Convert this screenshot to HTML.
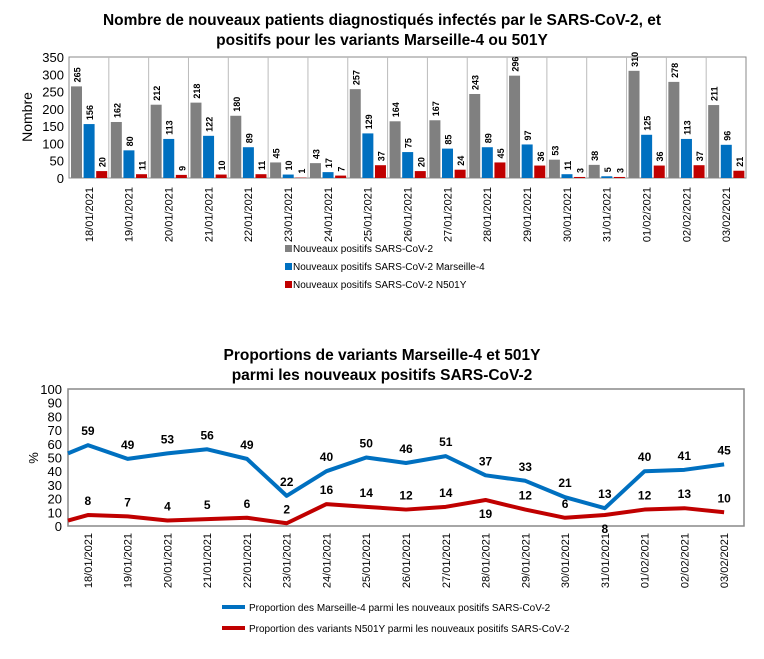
<!DOCTYPE html>
<html><head><meta charset="utf-8"><style>
body{margin:0;background:#fff;font-family:"Liberation Sans",sans-serif}
svg text{font-family:"Liberation Sans",sans-serif}
</style></head><body>
<svg width="764" height="654" xmlns="http://www.w3.org/2000/svg">
<script>
const dates=["18/01/2021","19/01/2021","20/01/2021","21/01/2021","22/01/2021","23/01/2021","24/01/2021","25/01/2021","26/01/2021","27/01/2021","28/01/2021","29/01/2021","30/01/2021","31/01/2021","01/02/2021","02/02/2021","03/02/2021"];
const totalPos=[265,162,212,218,180,45,43,257,164,167,243,296,53,38,310,278,211];
const marseillePos=[156,80,113,122,89,10,17,129,75,85,89,97,11,5,125,113,96];
const n501yPos=[20,11,9,10,11,1,7,37,20,24,45,36,3,3,36,37,21];
const barTicks=[0,50,100,150,200,250,300,350];
const propMarseille=[59,49,53,56,49,22,40,50,46,51,37,33,21,13,40,41,45];
const propN501y=[8,7,4,5,6,2,16,14,12,14,19,12,6,8,12,13,10];
const leadMarseille=53, leadN501y=4;
const redBelow=[10,13];
const pctTicks=[0,10,20,30,40,50,60,70,80,90,100];
</script>
<text x="382" y="25" text-anchor="middle" font-size="15.5" font-weight="bold">Nombre de nouveaux patients diagnostiqués infectés par le SARS-CoV-2, et</text>
<text x="382" y="45" text-anchor="middle" font-size="15.5" font-weight="bold">positifs pour les variants Marseille-4 ou 501Y</text>
<g id="bar"></g>
<text x="382" y="360" text-anchor="middle" font-size="15.5" font-weight="bold">Proportions de variants Marseille-4 et 501Y</text>
<text x="382" y="380" text-anchor="middle" font-size="15.5" font-weight="bold">parmi les nouveaux positifs SARS-CoV-2</text>
<g id="line"></g>
<g font-size="10">
<rect x="285" y="245" width="7" height="7" fill="#808080"/><text x="293" y="252">Nouveaux positifs SARS-CoV-2</text>
<rect x="285" y="263" width="7" height="7" fill="#0070c0"/><text x="293" y="270">Nouveaux positifs SARS-CoV-2 Marseille-4</text>
<rect x="285" y="281" width="7" height="7" fill="#c00000"/><text x="293" y="288">Nouveaux positifs SARS-CoV-2 N501Y</text>
</g>
<g font-size="10">
<line x1="222" y1="607" x2="245" y2="607" stroke="#0070c0" stroke-width="4"/><text x="249" y="611">Proportion des Marseille-4 parmi les nouveaux positifs SARS-CoV-2</text>
<line x1="222" y1="628" x2="245" y2="628" stroke="#c00000" stroke-width="4"/><text x="249" y="632">Proportion des variants N501Y parmi les nouveaux positifs SARS-CoV-2</text>
</g>
<script>
const NS="http://www.w3.org/2000/svg";
function mk(p,t,a,txt){const e=document.createElementNS(NS,t);for(const k in a)e.setAttribute(k,a[k]);if(txt!==undefined)e.textContent=txt;p.appendChild(e);return e;}
// bar chart
const bg=document.getElementById('bar');
const bL=69,bR=746,bT=57,bB=178,bMax=350;
const bw=(bR-bL)/dates.length;
const by=v=>bB-(v/bMax)*(bB-bT);
mk(bg,'rect',{x:bL,y:bT,width:bR-bL,height:bB-bT,fill:'none',stroke:'#888','stroke-width':1});
barTicks.forEach(t=>{const e=mk(bg,'text',{x:bL-5,y:by(t)+5,'text-anchor':'end','font-size':13},t);

});
const yt=mk(bg,'text',{x:0,y:0,transform:`translate(32,117) rotate(-90)`,'text-anchor':'middle','font-size':14},'Nombre');


const series=[[totalPos,'#808080'],[marseillePos,'#0070c0'],[n501yPos,'#c00000']];
dates.forEach((d,i)=>{
 const x0=bL+i*bw;
 if(i>0)mk(bg,'line',{x1:x0,y1:bT,x2:x0,y2:bB,stroke:'#bbb','stroke-width':1});
 series.forEach(([arr,c],j)=>{
  const x=x0+2+j*12.6,v=arr[i];
  const r=mk(bg,'rect',{x:x,y:by(v),width:11,height:bB-by(v),fill:c});
  
  
  const t=mk(bg,'text',{x:0,y:0,transform:`translate(${x+9.5},${by(v)-4}) rotate(-90)`,'font-size':9,'font-weight':'bold'},v);
  
  
 });
 const dl=mk(bg,'text',{x:0,y:0,transform:`translate(${x0+bw/2+4},187) rotate(-90)`,'text-anchor':'end','font-size':11},d);
 
 
});
// line chart
const lg=document.getElementById('line');
const lL=68,lR=744,lT=389,lB=526;
const lw=(lR-lL)/dates.length;
const ly=v=>lB-(v/100)*(lB-lT);
const lx=i=>lL+lw*(i+0.5);
mk(lg,'rect',{x:lL,y:lT,width:lR-lL,height:lB-lT,fill:'none',stroke:'#888','stroke-width':1.5});
pctTicks.forEach(t=>{const e=mk(lg,'text',{x:lL-6,y:ly(t)+5,'text-anchor':'end','font-size':13},t);

});
const yt2=mk(lg,'text',{x:0,y:0,transform:`translate(38,458) rotate(-90)`,'text-anchor':'middle','font-size':13},'%');


dates.forEach((d,i)=>{const dl=mk(lg,'text',{x:0,y:0,transform:`translate(${lx(i)+4},533) rotate(-90)`,'text-anchor':'end','font-size':11},d);

});
[[propMarseille,leadMarseille,'#0070c0','line-marseille4'],[propN501y,leadN501y,'#c00000','line-n501y']].forEach(([arr,lead,c,nm],k)=>{
 let p=`M${lL},${ly(lead)}`;arr.forEach((v,i)=>p+=` L${lx(i)},${ly(v)}`);
 const pa=mk(lg,'path',{d:p,fill:'none',stroke:c,'stroke-width':4,'stroke-linejoin':'round'});
 
 
 arr.forEach((v,i)=>{
  const below=k===1&&redBelow.includes(i);
  const t=mk(lg,'text',{x:lx(i),y:below?ly(v)+18:ly(v)-10,'text-anchor':'middle','font-size':12,'font-weight':'bold'},v);
  
  
 });
});
</script>
</svg>
</body></html>
